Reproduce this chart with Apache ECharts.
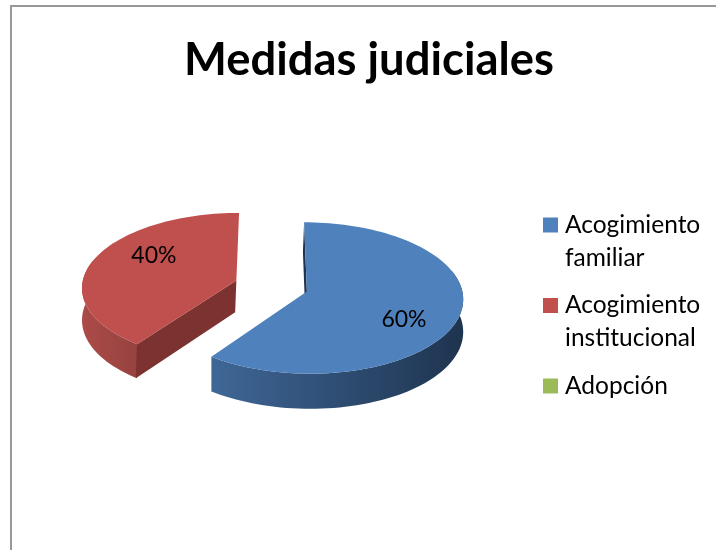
<!DOCTYPE html>
<html><head><meta charset="utf-8">
<style>html,body{margin:0;padding:0;background:#fff}#c{width:716px;height:550px}</style>
<script src="https://cdn.jsdelivr.net/npm/echarts@6/dist/echarts.min.js"></script>
</head><body><div id="c"></div>
<script>
const categories = ['Acogimiento familiar', 'Acogimiento institucional', 'Adopción'];
const legendLines = ['\nAcogimiento\nfamiliar', '\nAcogimiento\ninstitucional', '\nAdopción\n'];
const values = [60, 40, 0];
const colors = ['#4F81BD', '#C0504D', '#9BBB59'];
const title = 'Medidas judiciales';

// 3D pie projection settings
const view = { ox: 271.4, oy: 286, rx: 154.5, ry: 74.2, k: 0.0843, depth: 32, burst: 0.24, lean: 1.2 };
const labelTurn = 13.5, labelRadius = 0.68, labelShift = [3, 0.5];
const shades = [
  { wall: ['#3F6797', '#1E344F'], inner: '#1E344F' },
  { wall: ['#AC4B48', '#964240'], inner: '#7C3230' },
  { wall: ['#7C9A42', '#5E7530'], inner: '#4E6128' }
];

const total = values.reduce((a, b) => a + b, 0);
const rad = d => d * Math.PI / 180;
let run = 0;
const spans = values.map(v => { const s = { a0: run, a1: run + v / total * 360 }; run = s.a1; return s; });

function project(X, Z, down) {
  const d = 1 + view.k * Z;
  return [view.ox + view.rx * X / d, view.oy - view.ry * Z / d + (down ? view.depth / d : 0)];
}
function radialWall(apexT, apexB, edgeT, edgeB, fill) {
  const m = p => [p[0] - view.lean, p[1]];
  return { type: 'polygon', shape: { points: [apexT, edgeT, m(edgeB), m(apexB)] }, style: { fill } };
}
function renderSlice(params, api) {
  const i = params.seriesIndex, v = api.value(0);
  if (!v) return { type: 'group', children: [] };
  const sp = spans[i], mid = rad((sp.a0 + sp.a1) / 2);
  const cx = Math.sin(mid) * view.burst, cz = Math.cos(mid) * view.burst;
  const arc = [], front = [];
  for (let a = sp.a0; a <= sp.a1 + 1e-6; a += 2) {
    const p = [cx + Math.sin(rad(a)), cz + Math.cos(rad(a))];
    arc.push(p);
    if (Math.cos(rad(a)) < 0.3) front.push(p);
  }
  const top = arc.map(p => project(p[0], p[1], false));
  const frontTop = front.map(p => project(p[0], p[1], false));
  const frontLow = front.map(p => project(p[0], p[1], true));
  const apexT = project(cx, cz, false), apexB = project(cx, cz, true);
  const xs = frontLow.map(p => p[0]);
  const wallFill = { type: 'linear', x: Math.min(...xs), y: 0, x2: Math.max(...xs), y2: 0, global: true,
    colorStops: [{ offset: 0, color: shades[i].wall[0] }, { offset: 1, color: shades[i].wall[1] }] };
  const last = arc.length - 1;
  const kids = [
    { type: 'polygon', shape: { points: frontTop.concat(frontLow.slice().reverse()) }, style: { fill: wallFill } }
  ];
  // a radial wall is seen only when it faces the viewer
  if (Math.cos(rad(sp.a0 - 90)) < 1e-6) kids.push(radialWall(apexT, apexB, top[0], project(arc[0][0], arc[0][1], true), shades[i].inner));
  if (Math.cos(rad(sp.a1 + 90)) < -1e-6) kids.push(radialWall(apexT, apexB, top[last], project(arc[last][0], arc[last][1], true), shades[i].inner));
  kids.push({ type: 'polygon', shape: { points: [apexT].concat(top) }, style: { fill: colors[i] } });
  const la = mid + rad(labelTurn);
  const lp = project(cx + Math.sin(la) * labelRadius, cz + Math.cos(la) * labelRadius, false);
  kids.push({ type: 'text', x: lp[0] + labelShift[0], y: lp[1] + labelShift[1], style: {
    text: Math.round(v / total * 100) + '%', fill: '#000',
    font: '23px Lato', align: 'center', verticalAlign: 'middle' } });
  return { type: 'group', children: kids };
}

const chart = echarts.init(document.getElementById('c'), null, { renderer: 'canvas' });
chart.setOption({
  animation: false,
  backgroundColor: '#fff',
  title: { text: title, left: 369, top: 38, textAlign: 'center', padding: 0,
    textStyle: { fontFamily: 'Lato', fontWeight: 'bold', fontSize: 45.4, color: '#000' } },
  legend: {
    orient: 'vertical', left: 543, top: 175.5, padding: 0, itemWidth: 15, itemHeight: 15, itemGap: -18.5,
    icon: 'rect', selectedMode: false, align: 'left',
    data: categories,
    formatter: name => legendLines[categories.indexOf(name)],
    textStyle: { fontFamily: 'Lato', fontSize: 24.5, lineHeight: 33, color: '#000', padding: [0, 0, 0, 2] }
  },
  graphic: [
    { type: 'polyline', silent: true, shape: { points: [[11, 550], [11, 6], [716, 6]] },
      style: { stroke: '#989898', lineWidth: 2, fill: null } }
  ],
  series: categories.map((name, i) => ({
    type: 'custom', name, coordinateSystem: 'none', renderItem: renderSlice,
    itemStyle: { color: colors[i] }, data: [[values[i]]], silent: true
  }))
});
</script></body></html>
